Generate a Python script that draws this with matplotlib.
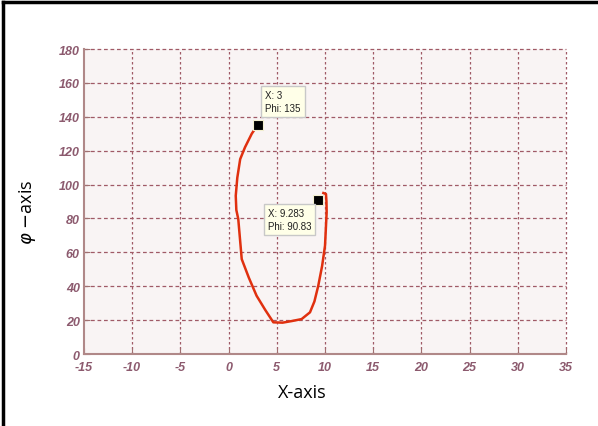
import matplotlib.pyplot as plt
from matplotlib.lines import Line2D

plt.rcParams['axes.unicode_minus'] = False

# trajectory
x_vals = [3.0, 2.4, 1.7, 1.2, 0.9, 0.74, 0.8, 1.0, 1.36, 2.1, 2.9, 3.8, 4.64, 5.6, 6.6, 7.57, 8.44, 8.9, 9.3, 9.7, 10.0, 10.17, 10.15, 10.1, 9.83]
phi_vals = [135, 130, 122, 115, 104, 93.4, 85, 79.7, 56, 45, 34.4, 26, 18.7, 18.5, 19.5, 20.6, 24.6, 31, 40.3, 52, 63.9, 83.6, 90, 94.4, 95]

tips_x = [3, 9.283]
tips_phi = [135, 90.83]
tip_text = ["X: 3\nPhi: 135", "X: 9.283\nPhi: 90.83"]
tip_offsets = [(0.8, 20.8), (-5.2, -4.6)]   # where each box sits, in data units from the tip

x_ticks = list(range(-15, 40, 5))
y_ticks = list(range(0, 200, 20))

fig = plt.figure(figsize=(5.98, 4.27), dpi=100)
ax = fig.add_axes([0.1405, 0.1686, 0.806, 0.7143])
ax.set_facecolor('#f9f4f4')

grid_col = '#a05a66'
for yv in y_ticks[1:]:
    ax.axhline(yv, color=grid_col, lw=0.9, dashes=(3, 2.2), zorder=1, clip_on=False)
for xv in x_ticks[1:]:
    ax.axvline(xv, color=grid_col, lw=0.9, dashes=(2, 2), zorder=1, clip_on=False)

ax.plot(x_vals, phi_vals, color='#e0300f', lw=1.8, zorder=3)
ax.plot(tips_x, tips_phi, 's', color='black', ms=6.5, mec='#f4f0d0', mew=0.8, zorder=5)

for tx, ty, txt, (dx, dy) in zip(tips_x, tips_phi, tip_text, tip_offsets):
    ax.text(tx + dx, ty + dy, txt, fontsize=7, family='Liberation Sans', color='#202020',
            va='top', ha='left', linespacing=1.35, zorder=6,
            bbox=dict(boxstyle='square,pad=0.4', fc='#ffffe8', ec='#c8c8c8', lw=1))

ax.set_xlim(-15, 35)
ax.set_ylim(0, 180)
ax.set_xticks(x_ticks)
ax.set_yticks(y_ticks)

tick_col = '#8c5a6e'
ax.tick_params(direction='in', length=4, color='#a07070', labelcolor=tick_col)
ax.tick_params(axis='x', pad=5)
ax.tick_params(axis='y', pad=3)
for lbl in ax.get_xticklabels() + ax.get_yticklabels():
    lbl.set_fontfamily('Liberation Sans')
    lbl.set_fontsize(9)
    lbl.set_fontweight('bold')
    lbl.set_fontstyle('italic')

for side in ['top', 'right']:
    ax.spines[side].set_visible(False)
for side in ['left', 'bottom']:
    ax.spines[side].set_color('#b08888')
    ax.spines[side].set_linewidth(1.5)

fig.text(302 / 598, 1 - 393 / 427, 'X-axis', fontsize=13, family='Open Sans',
         ha='center', va='center')
fig.text(28 / 598, 1 - 212 / 427, r'$\varphi$ $-$axis', fontsize=13, family='Open Sans',
         ha='center', va='center', rotation=90)

# screenshot frame along top and left
fig.add_artist(Line2D([0.005, 1.0], [0.993, 0.993], color='black', lw=2.5, transform=fig.transFigure))
fig.add_artist(Line2D([0.005, 0.005], [0.0, 0.993], color='black', lw=2.5, transform=fig.transFigure))

fig.savefig('out.png', dpi=100)
